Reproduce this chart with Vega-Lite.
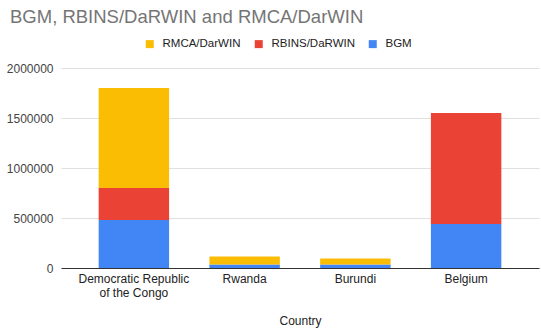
{
  "$schema": "https://vega.github.io/schema/vega-lite/v6.json",
  "autosize": "none",
  "width": 478,
  "height": 200,
  "padding": {"left": 61, "top": 68, "right": 2, "bottom": 63},
  "background": "white",
  "title": {
    "text": "BGM, RBINS/DaRWIN and RMCA/DarWIN",
    "anchor": "start",
    "frame": "group",
    "font": "Liberation Sans",
    "fontSize": 18.5,
    "fontWeight": "normal",
    "color": "#757575",
    "dx": -51,
    "offset": 12
  },
  "data": {
    "values": [
      {"Country": "Democratic Republic of the Congo", "Series": "BGM", "Value": 480000},
      {"Country": "Democratic Republic of the Congo", "Series": "RBINS/DaRWIN", "Value": 320000},
      {"Country": "Democratic Republic of the Congo", "Series": "RMCA/DarWIN", "Value": 1000000},
      {"Country": "Rwanda", "Series": "BGM", "Value": 35000},
      {"Country": "Rwanda", "Series": "RBINS/DaRWIN", "Value": 0},
      {"Country": "Rwanda", "Series": "RMCA/DarWIN", "Value": 80000},
      {"Country": "Burundi", "Series": "BGM", "Value": 35000},
      {"Country": "Burundi", "Series": "RBINS/DaRWIN", "Value": 0},
      {"Country": "Burundi", "Series": "RMCA/DarWIN", "Value": 60000},
      {"Country": "Belgium", "Series": "BGM", "Value": 440000},
      {"Country": "Belgium", "Series": "RBINS/DaRWIN", "Value": 1110000},
      {"Country": "Belgium", "Series": "RMCA/DarWIN", "Value": 0}
    ]
  },
  "transform": [
    {"calculate": "datum.Series == 'BGM' ? 0 : datum.Series == 'RBINS/DaRWIN' ? 1 : 2", "as": "stackOrder"}
  ],
  "mark": {"type": "bar"},
  "encoding": {
    "x": {
      "field": "Country",
      "type": "nominal",
      "sort": ["Democratic Republic of the Congo", "Rwanda", "Burundi", "Belgium"],
      "scale": {"paddingInner": 0.364, "paddingOuter": 0.34},
      "axis": {
        "title": "Country",
        "titleFont": "Liberation Sans",
        "titleFontSize": 12,
        "titleFontWeight": "normal",
        "titleColor": "#222222",
        "titlePadding": 17,
        "labelAngle": 0,
        "labelFont": "Liberation Sans",
        "labelFontSize": 12,
        "labelColor": "#222222",
        "labelPadding": 5,
        "labelExpr": "datum.label == 'Democratic Republic of the Congo' ? ['Democratic Republic', 'of the Congo'] : datum.label",
        "ticks": false,
        "domainColor": "#333333",
        "domainWidth": 1
      }
    },
    "y": {
      "field": "Value",
      "type": "quantitative",
      "stack": "zero",
      "scale": {"domain": [0, 2000000]},
      "axis": {
        "title": null,
        "values": [0, 500000, 1000000, 1500000, 2000000],
        "format": "d",
        "labelFont": "Liberation Sans",
        "labelFontSize": 12,
        "labelColor": "#444444",
        "labelPadding": 8,
        "ticks": false,
        "domain": false,
        "gridColor": "#e0e0e0"
      }
    },
    "color": {
      "field": "Series",
      "type": "nominal",
      "scale": {
        "domain": ["RMCA/DarWIN", "RBINS/DaRWIN", "BGM"],
        "range": ["#FBBC04", "#EA4335", "#4285F4"]
      },
      "legend": {
        "title": null,
        "orient": "none",
        "direction": "horizontal",
        "legendX": 83,
        "legendY": -30,
        "symbolType": "square",
        "symbolSize": 64,
        "symbolStrokeWidth": 0,
        "symbolOpacity": 1,
        "labelFont": "Liberation Sans",
        "labelFontSize": 11.5,
        "labelColor": "#222222",
        "labelOffset": 7,
        "columnPadding": 12
      }
    },
    "order": {"field": "stackOrder", "type": "quantitative"}
  },
  "config": {"view": {"stroke": null}}
}
